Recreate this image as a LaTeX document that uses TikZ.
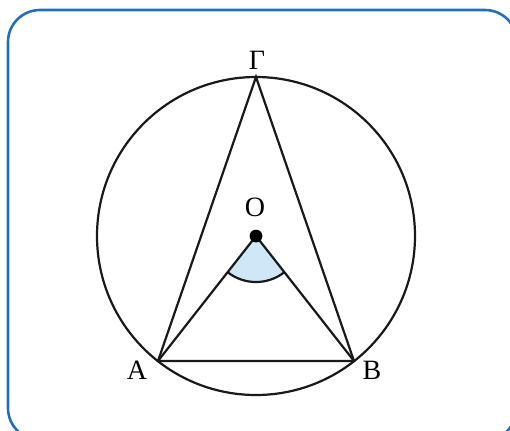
\documentclass[tikz,border=0pt]{standalone}
\usepackage{fontspec}
\setmainfont{Liberation Serif}
\usetikzlibrary{calc}
\definecolor{frameblue}{RGB}{34,112,188}
\definecolor{angfill}{RGB}{206,232,248}
\begin{document}
\begin{tikzpicture}[x=0.5pt,y=-0.5pt,
  lbl/.style={font=\fontsize{14}{16}\selectfont, inner sep=0pt},
  geo/.style={line width=1.1pt, draw=black!90}]
\useasboundingbox (0,0) rectangle (510,430);
\draw[frameblue, line width=1.3pt, rounded corners=16pt] (8,10) rectangle (517,440);
\coordinate (O) at (256,236);
\coordinate (G) at (256,77);
\coordinate (A) at (158,361);
\coordinate (B) at (354,361);
\fill[angfill] (O) -- ($(O)+(-128:23pt)$) arc[start angle=-128, end angle=-52, radius=23pt] -- cycle;
\draw[geo] (O) circle[radius=79.5pt];
\draw[geo] (G) -- (A) -- (B) -- cycle;
\draw[geo] (A) -- (O) -- (B);
\draw[geo] ($(O)+(-128:23pt)$) arc[start angle=-128, end angle=-52, radius=23pt];
\fill[black] (O) circle[radius=3.2pt];
\node[lbl] (nG) at (257,60) {Γ};
\node[lbl] (nO) at (255,207) {O};
\node[lbl] (nA) at (137,370) {A};
\node[lbl] (nB) at (372,370) {B};
\end{tikzpicture}
\end{document}
